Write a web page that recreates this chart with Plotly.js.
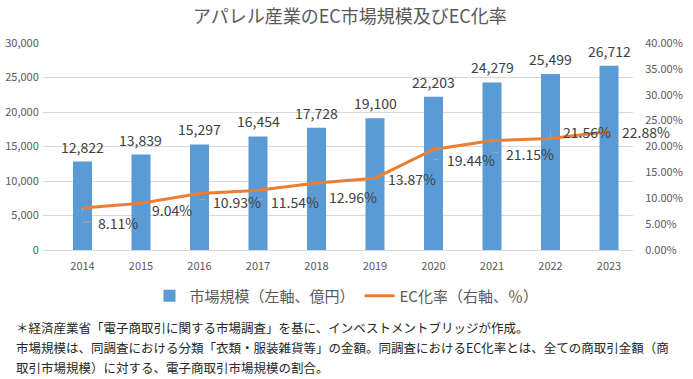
<!DOCTYPE html>
<html>
<head>
<meta charset="utf-8">
<script src="https://cdn.plot.ly/plotly-3.0.1.min.js"></script>
<style>html,body{margin:0;padding:0;background:#fff;}#chart{width:693px;height:379px;}</style>
</head>
<body>
<div id="chart"></div>
<script>
// ---- data ----
const years = ['2014','2015','2016','2017','2018','2019','2020','2021','2022','2023'];
const marketSize = [12822, 13839, 15297, 16454, 17728, 19100, 22203, 24279, 25499, 26712];
const ecRate = [8.11, 9.04, 10.93, 11.54, 12.96, 13.87, 19.44, 21.15, 21.56, 22.88];
const barName = '市場規模（左軸、億円）';
const lineName = 'EC化率（右軸、％）';
const titleText = 'アパレル産業のEC市場規模及びEC化率';
const notes = [
  '＊経済産業省「電子商取引に関する市場調査」を基に、インベストメントブリッジが作成。',
  '市場規模は、同調査における分類「衣類・服装雑貨等」の金額。同調査におけるEC化率とは、全ての商取引金額（商',
  '取引市場規模）に対する、電子商取引市場規模の割合。'
];

// ---- label placement (pixels) ----
const rateLabelDx = [14, 9, 12, 11, 10, 11, 11, 12, 10, 11];
const rateLabelDy = [15, 7, 9, 12, 14, 1, 11, 13, -6, 0];
const leaderDy = [14, null, 6, 9, null, null, 10, 12, -7, null];

const FONT = '"Noto Sans CJK JP", "Noto Sans", sans-serif';
const blue = '#5B9BD5', orange = '#ED7D31', grid = '#D9D9D9', axisText = '#595959', labelText = '#404040', leader = '#A6A6A6';

const traces = [
  {type: 'bar', x: years, y: marketSize, name: barName, marker: {color: blue}, width: 0.325, yaxis: 'y', hoverinfo: 'skip'},
  {type: 'scatter', mode: 'lines', x: years, y: ecRate, name: lineName, yaxis: 'y2', line: {color: orange, width: 3}, hoverinfo: 'skip'}
];

const annotations = [];
years.forEach((yr, i) => {
  annotations.push({x: i, y: marketSize[i], xref: 'x', yref: 'y', text: marketSize[i].toLocaleString('en-US'),
    showarrow: false, yanchor: 'bottom', xanchor: 'center', yshift: 3, font: {family: FONT, size: 14, color: labelText}});
  annotations.push({x: i, y: ecRate[i], xref: 'x', yref: 'y2', text: ecRate[i].toFixed(2) + '%',
    showarrow: false, xanchor: 'left', yanchor: 'middle', xshift: rateLabelDx[i], yshift: -rateLabelDy[i],
    font: {family: FONT, size: 14, color: labelText}});
  if (leaderDy[i] !== null) {
    annotations.push({x: i, y: ecRate[i], xref: 'x', yref: 'y2', text: ' ', showarrow: true, ax: 0, ay: leaderDy[i],
      arrowhead: 0, arrowwidth: 1, arrowcolor: leader, standoff: 0, startstandoff: 0});
    annotations.push({x: i, y: ecRate[i], xref: 'x', yref: 'y2', text: ' ', showarrow: true, ax: rateLabelDx[i] - 3, ay: 0,
      yshift: -leaderDy[i], arrowhead: 0, arrowwidth: 1, arrowcolor: leader, standoff: 0, startstandoff: 0});
  }
});
const noteY = [-0.372, -0.473, -0.570];
notes.forEach((t, i) => {
  annotations.push({x: -0.049, y: noteY[i], xref: 'paper', yref: 'paper', text: t, showarrow: false,
    xanchor: 'left', yanchor: 'middle', font: {family: FONT, size: 12.5, color: '#262626'}});
});

const layout = {
  width: 693, height: 379,
  margin: {l: 43, r: 60, t: 43, b: 129, pad: 0},
  paper_bgcolor: '#fff', plot_bgcolor: '#fff',
  font: {family: FONT, color: axisText},
  title: {text: titleText, x: 0.505, xanchor: 'center', y: 1 - 17/379, yanchor: 'middle', yref: 'container',
    font: {family: FONT, size: 18, color: axisText}},
  showlegend: true,
  legend: {orientation: 'h', x: 0.5, xref: 'container', xanchor: 'center', y: 1 - 296/379, yref: 'container', yanchor: 'middle',
    font: {family: FONT, size: 15, color: axisText}, traceorder: 'normal', itemwidth: 30},
  bargap: 0.675,
  xaxis: {type: 'category', range: [-0.675, 9.41], showgrid: false, showline: false, zeroline: false,
    ticks: 'outside', ticklen: 6, tickcolor: 'rgba(0,0,0,0)', tickfont: {family: FONT, size: 11, color: axisText}, fixedrange: true},
  yaxis: {range: [0, 30000], dtick: 5000, tickformat: ',', showgrid: true, gridcolor: grid, gridwidth: 1,
    zeroline: true, zerolinecolor: grid, zerolinewidth: 1, showline: false,
    ticks: 'outside', ticklen: 1, tickcolor: 'rgba(0,0,0,0)', tickfont: {family: FONT, size: 11, color: axisText}},
  yaxis2: {overlaying: 'y', side: 'right', range: [0, 40], dtick: 5, tickformat: '.2f', ticksuffix: '%', showgrid: false,
    zeroline: false, showline: false, ticks: 'outside', ticklen: 9, tickcolor: 'rgba(0,0,0,0)',
    tickfont: {family: FONT, size: 11, color: axisText}},
  annotations: annotations
};

Plotly.newPlot('chart', traces, layout, {staticPlot: true, displayModeBar: false});
</script>
</body>
</html>
